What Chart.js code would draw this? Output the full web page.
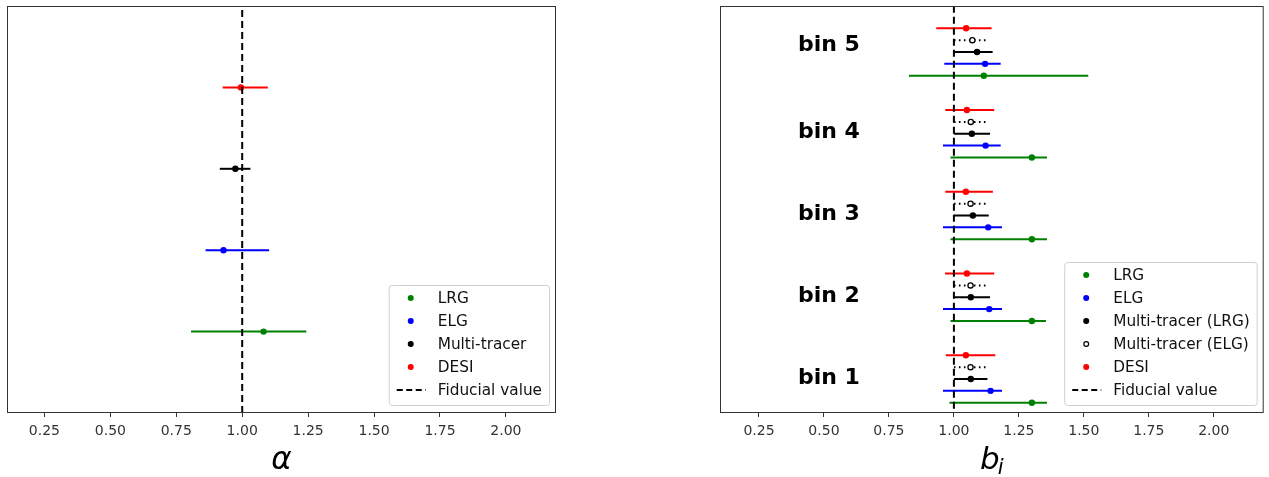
<!DOCTYPE html>
<html>
<head>
<meta charset="utf-8">
<script src="https://cdn.jsdelivr.net/npm/chart.js@4.4.1/dist/chart.umd.min.js"></script>
<style>
  body { margin: 0; background: #fff; }
  #wrap { position: relative; width: 1269px; height: 477px; }
  .panel { position: absolute; top: 0; height: 477px; }
</style>
</head>
<body>
<div id="wrap">
  <div class="panel" style="left:0;width:565px"><canvas id="alpha-chart"></canvas></div>
  <div class="panel" style="left:712px;width:557px"><canvas id="bias-chart"></canvas></div>
</div>
<script>
/* shared x ticks */
var xTicks = [0.25, 0.5, 0.75, 1.0, 1.25, 1.5, 1.75, 2.0];
var fiducial = 1.0;

/* alpha constraints, one row per tracer */
var alphaNames = ['LRG', 'ELG', 'Multi-tracer', 'DESI'];
var alphaRows = [1, 2, 3, 4];
var alphaMean = [1.081, 0.929, 0.974, 0.995];
var alphaLow = [0.806, 0.861, 0.915, 0.926];
var alphaHigh = [1.243, 1.102, 1.031, 1.097];

/* bias per redshift bin */
var bins = [1, 2, 3, 4, 5];
var binLabels = ['bin 1', 'bin 2', 'bin 3', 'bin 4', 'bin 5'];
var binLabelY = [1.037, 2.04, 3.037, 4.04, 5.11];

var lrgBias = [1.30, 1.30, 1.30, 1.30, 1.115];
var lrgLow = [0.983, 0.987, 0.987, 0.987, 0.827];
var lrgHigh = [1.358, 1.354, 1.358, 1.358, 1.517];

var elgBias = [1.141, 1.136, 1.132, 1.122, 1.12];
var elgLow = [0.958, 0.958, 0.958, 0.958, 0.963];
var elgHigh = [1.185, 1.185, 1.185, 1.18, 1.18];

var mtLrgBias = [1.065, 1.065, 1.073, 1.069, 1.089];
var mtLrgLow = [1.0, 1.0, 1.0, 1.0, 1.0];
var mtLrgHigh = [1.129, 1.139, 1.134, 1.139, 1.149];

var mtElgBias = [1.064, 1.064, 1.064, 1.065, 1.071];
var mtElgLow = [1.0, 1.0, 1.0, 1.0, 1.0];
var mtElgHigh = [1.124, 1.13, 1.13, 1.124, 1.126];

var desiBias = [1.046, 1.05, 1.046, 1.05, 1.047];
var desiLow = [0.969, 0.966, 0.967, 0.967, 0.932];
var desiHigh = [1.159, 1.155, 1.15, 1.155, 1.145];

var FONT = 'DejaVu Sans';

// one little line dataset per error bar
function errorBars(rows, low, high, color, dash) {
    return rows.map(function (y, i) {
        return {
            type: 'line',
            data: [{x: low[i], y: y}, {x: high[i], y: y}],
            borderColor: color,
            borderWidth: 2,
            borderDash: dash || [],
            pointRadius: 0,
            order: 2
        };
    });
}

function dots(rows, mean, color, open) {
    return {
        type: 'scatter',
        data: rows.map(function (y, i) { return {x: mean[i], y: y}; }),
        backgroundColor: open ? '#fff' : color,
        borderColor: color,
        borderWidth: open ? 1.3 : 0,
        pointRadius: open ? 2.6 : 3.2,
        order: 1
    };
}

function fiducialLine(ymin, ymax) {
    return {
        type: 'line',
        data: [{x: fiducial, y: ymin}, {x: fiducial, y: ymax}],
        borderColor: '#000',
        borderWidth: 2,
        borderDash: [7, 4],
        pointRadius: 0,
        order: 0
    };
}

// frame, legend box, axis title and bin labels
var decor = {
    id: 'decor',
    afterDraw: function (chart) {
        var o = chart.options.plugins.decor;
        var ctx = chart.ctx, a = chart.chartArea;
        ctx.save();

        ctx.strokeStyle = '#333';
        ctx.lineWidth = 1;
        ctx.strokeRect(a.left + 0.5, a.top + 0.5, a.right - a.left - 1, a.bottom - a.top - 1);

        // bin labels
        if (o.binText) {
            var xs = chart.scales.x, ys = chart.scales.y;
            ctx.fillStyle = '#000';
            ctx.font = 'bold 22px ' + FONT;
            ctx.textAlign = 'left';
            ctx.textBaseline = 'alphabetic';
            o.binText.forEach(function (t, i) {
                ctx.fillText(t, xs.getPixelForValue(0.4), ys.getPixelForValue(o.binTextY[i]) + 8);
            });
        }

        // axis title
        var cx = (a.left + a.right) / 2;
        ctx.fillStyle = '#000';
        ctx.textBaseline = 'alphabetic';
        ctx.font = 'italic 31px ' + FONT;
        if (o.sub) {
            var w1 = ctx.measureText(o.title).width;
            ctx.font = 'italic 21px ' + FONT;
            var w2 = ctx.measureText(o.sub).width;
            var x0 = cx - (w1 + w2 - 2) / 2;
            ctx.textAlign = 'left';
            ctx.font = 'italic 31px ' + FONT;
            ctx.fillText(o.title, x0, 469);
            ctx.font = 'italic 21px ' + FONT;
            ctx.fillText(o.sub, x0 + w1 - 2, 474);
        } else {
            ctx.textAlign = 'center';
            ctx.fillText(o.title, cx, 469);
        }

        // legend, bottom right of the axes
        var items = o.legend;
        ctx.font = '15.3px ' + FONT;
        var tw = 0;
        items.forEach(function (it) { tw = Math.max(tw, ctx.measureText(it.label).width); });
        var bw = 49 + tw + 7, bh = items.length * 23 + 5;
        var bx = a.right - 7 - bw, by = a.bottom - 8 - bh;
        ctx.beginPath();
        ctx.roundRect(bx + 0.5, by + 0.5, bw, bh, 3);
        ctx.fillStyle = 'rgba(255,255,255,0.8)';
        ctx.fill();
        ctx.strokeStyle = '#d0d0d0';
        ctx.stroke();

        items.forEach(function (it, i) {
            var y = by + 13 + i * 23;
            var mx = bx + 22;
            if (it.kind === 'dash') {
                ctx.beginPath();
                ctx.setLineDash([6, 3.5]);
                ctx.strokeStyle = '#000';
                ctx.lineWidth = 2;
                ctx.moveTo(bx + 8, y);
                ctx.lineTo(bx + 37, y);
                ctx.stroke();
                ctx.setLineDash([]);
            } else {
                ctx.beginPath();
                ctx.arc(mx, y, it.kind === 'open' ? 2.4 : 3, 0, Math.PI * 2);
                if (it.kind === 'open') {
                    ctx.fillStyle = '#fff';
                    ctx.fill();
                    ctx.lineWidth = 1.2;
                    ctx.strokeStyle = it.color;
                    ctx.stroke();
                } else {
                    ctx.fillStyle = it.color;
                    ctx.fill();
                }
            }
            ctx.fillStyle = '#111';
            ctx.textAlign = 'left';
            ctx.textBaseline = 'middle';
            ctx.fillText(it.label, bx + 49, y + 1);
        });
        ctx.restore();
    }
};

function makeChart(id, datasets, ymin, ymax, xmin, xmax, pad, decorOpts) {
    return new Chart(document.getElementById(id), {
        type: 'scatter',
        data: {datasets: datasets},
        options: {
            responsive: true,
            maintainAspectRatio: false,
            animation: false,
            layout: {padding: pad},
            plugins: {
                legend: {display: false},
                tooltip: {enabled: false},
                decor: decorOpts
            },
            scales: {
                x: {
                    type: 'linear',
                    min: xmin,
                    max: xmax,
                    afterBuildTicks: function (s) {
                        s.ticks = xTicks.map(function (v) { return {value: v}; });
                    },
                    afterFit: function (s) { s.height = 64; },
                    ticks: {
                        callback: function (v) { return Number(v).toFixed(2); },
                        color: '#333',
                        font: {family: FONT, size: 14},
                        padding: 6,
                        maxRotation: 0,
                        autoSkip: false
                    },
                    grid: {
                        display: true,
                        drawOnChartArea: false,
                        tickLength: 4,
                        tickColor: '#333'
                    },
                    border: {display: false}
                },
                y: {type: 'linear', display: false, min: ymin, max: ymax}
            }
        },
        plugins: [decor]
    });
}

/* left panel: alpha */
var alphaColors = ['green', 'blue', 'black', 'red'];
var alphaSets = [fiducialLine(0, 5)];
alphaRows.forEach(function (r, i) {
    alphaSets.push(dots([r], [alphaMean[i]], alphaColors[i]));
    alphaSets = alphaSets.concat(errorBars([r], [alphaLow[i]], [alphaHigh[i]], alphaColors[i]));
});
makeChart('alpha-chart', alphaSets, 0, 5, 0.108, 2.19,
    {left: 7, top: 6, right: 9, bottom: 0},
    {
        title: 'α',
        legend: alphaNames.map(function (n, i) { return {label: n, color: alphaColors[i], kind: 'dot'}; })
            .concat([{label: 'Fiducial value', kind: 'dash'}])
    });

/* right panel: bias per bin */
var step = 0.145;
function rowsAt(k) { return bins.map(function (b) { return b + k * step; }); }

var biasSets = [fiducialLine(0.5, 5.7)];
var series = [
    {name: 'LRG', color: 'green', mean: lrgBias, lo: lrgLow, hi: lrgHigh, k: -2},
    {name: 'ELG', color: 'blue', mean: elgBias, lo: elgLow, hi: elgHigh, k: -1},
    {name: 'Multi-tracer (LRG)', color: 'black', mean: mtLrgBias, lo: mtLrgLow, hi: mtLrgHigh, k: 0},
    {name: 'Multi-tracer (ELG)', color: 'black', mean: mtElgBias, lo: mtElgLow, hi: mtElgHigh, k: 1, open: true},
    {name: 'DESI', color: 'red', mean: desiBias, lo: desiLow, hi: desiHigh, k: 2}
];
series.forEach(function (s) {
    var rows = rowsAt(s.k);
    biasSets.push(dots(rows, s.mean, s.color, s.open));
    biasSets = biasSets.concat(errorBars(rows, s.lo, s.hi, s.color, s.open ? [1.6, 3.4] : null));
});
makeChart('bias-chart', biasSets, 0.584, 5.563, 0.1, 2.192,
    {left: 8, top: 6, right: 2, bottom: 0},
    {
        title: 'b',
        sub: 'i',
        binText: binLabels,
        binTextY: binLabelY,
        legend: series.map(function (s) {
            return {label: s.name, color: s.color, kind: s.open ? 'open' : 'dot'};
        }).concat([{label: 'Fiducial value', kind: 'dash'}])
    });
</script>
</body>
</html>
